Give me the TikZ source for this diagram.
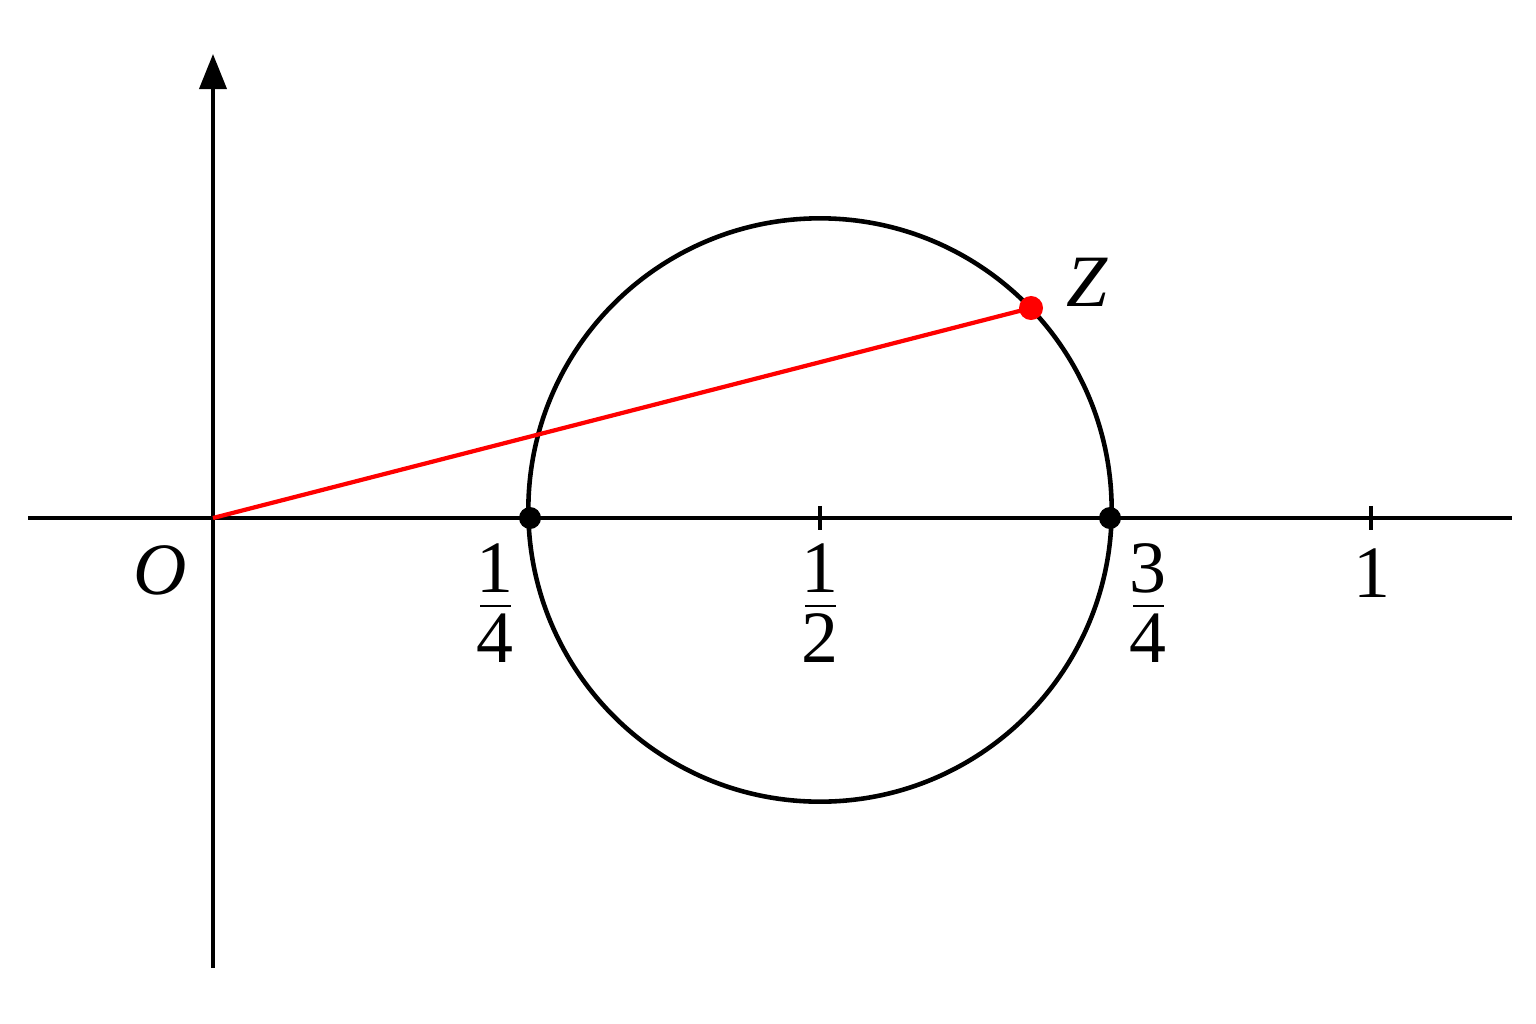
\documentclass[tikz,border=0pt]{standalone}
\usepackage{fontspec}
\setmainfont{Liberation Serif}
\usetikzlibrary{arrows.meta}
\tikzset{
  axis/.style={line width=1.1pt, black},
  curve/.style={line width=1.3pt, black},
  redline/.style={line width=1.2pt, red},
  tickmark/.style={line width=1.1pt, black},
  fracbar/.style={line width=0.8pt, black},
  lbl/.style={inner sep=0pt, font=\fontsize{21}{24}\selectfont},
  lblb/.style={lbl, anchor=base},
}
\begin{document}
\begin{tikzpicture}[x=0.01cm, y=-0.01cm]
\useasboundingbox (0,0) rectangle (1536,1024);
% coordinates
\coordinate (O) at (213,518);
\coordinate (xl) at (28,518);
\coordinate (xr) at (1512,518);
\coordinate (yb) at (213,968);
\coordinate (yt) at (213,54);
\coordinate (C) at (820,510);
\coordinate (Q) at (530,518);
\coordinate (T) at (1110,518);
\coordinate (Z) at (1031,308);
\coordinate (h) at (820,518);
\coordinate (one) at (1371,518);
% axes
\draw[axis] (xl) -- (xr);
\draw[axis, -{Triangle[length=0.35cm, width=0.27cm]}] (yb) -- (yt);
% ticks
\draw[tickmark] ([yshift=0.12cm]h) -- ([yshift=-0.12cm]h);
\draw[tickmark] ([yshift=0.12cm]one) -- ([yshift=-0.12cm]one);
% circle
\draw[curve] (C) circle[radius=2.915cm];
% red segment
\draw[redline] (O) -- (Z);
% dots
\fill[black] (Q) circle[radius=0.11cm];
\fill[black] (T) circle[radius=0.11cm];
\fill[red] (Z) circle[radius=0.12cm];
% labels
\node[lblb] (lO) at (160,594) {\textit{O}};
\node[lblb] (lZ) at (1087,306) {\textit{Z}};
\node[lblb] (l1) at (1372,597) {1};
% fraction 1/4
\node[lblb] (q1) at (495,592) {1};
\node[lblb] (q4) at (495,662) {4};
\draw[fracbar] (480,606) -- (511,606);
% fraction 1/2
\node[lblb] (h1) at (820,592) {1};
\node[lblb] (h2) at (820,662) {2};
\draw[fracbar] (805,606) -- (836,606);
% fraction 3/4
\node[lblb] (t3) at (1148,592) {3};
\node[lblb] (t4) at (1148,662) {4};
\draw[fracbar] (1133,606) -- (1164,606);
\end{tikzpicture}
\end{document}
